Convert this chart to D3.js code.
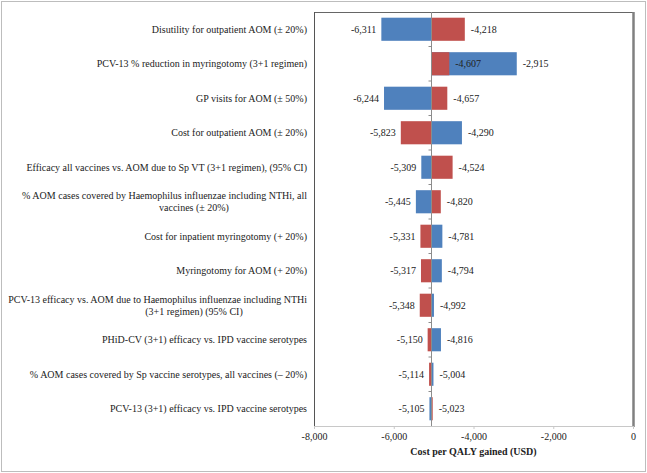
<!DOCTYPE html>
<html>
<head>
<meta charset="utf-8">
<script src="https://cdn.jsdelivr.net/npm/d3@7"></script>
<style>
  body { margin: 0; background: #fff; }
</style>
</head>
<body>
<svg id="chart"></svg>
<script>
// parameters (top to bottom), "\n" marks a line break in the label
const categories = [
    'Disutility for outpatient AOM (± 20%)',
    'PCV-13 % reduction in myringotomy (3+1 regimen)',
    'GP visits for AOM (± 50%)',
    'Cost for outpatient AOM (± 20%)',
    'Efficacy all vaccines vs. AOM due to Sp VT (3+1 regimen), (95% CI)',
    '% AOM cases covered by Haemophilus influenzae including NTHi, all\nvaccines (± 20%)',
    'Cost for inpatient myringotomy (+ 20%)',
    'Myringotomy for AOM (+ 20%)',
    'PCV-13 efficacy vs. AOM due to Haemophilus influenzae including NTHi\n(3+1 regimen) (95% CI)',
    'PHiD-CV (3+1) efficacy vs. IPD vaccine serotypes',
    '% AOM cases covered by Sp vaccine serotypes, all vaccines (– 20%)',
    'PCV-13 (3+1) efficacy vs. IPD vaccine serotypes'
]
const blueValues = [-6311, -2915, -6244, -4290, -5309, -5445, -4781, -4794, -4992, -4816, -5004, -5105]
const redValues  = [-4218, -4607, -4657, -5823, -4524, -4820, -5331, -5317, -5348, -5150, -5114, -5023]
const baseValue = -5064
const xTicks = [-8000, -6000, -4000, -2000, 0]
const xTitle = 'Cost per QALY gained (USD)'

const W = 647, H = 473
const plot = { left: 314, right: 633, top: 12, bottom: 426 }
const FONT = '"Liberation Serif", "Times New Roman", "DejaVu Serif", serif'
const FS = '10px'

const fmt = d3.formatLocale({ decimal: '.', thousands: ',', grouping: [3], currency: ['$', ''], minus: '-' }).format(',')

const svg = d3.select('#chart').attr('width', W).attr('height', H)

// outer frame
svg.append('rect')
    .attr('x', 1.5).attr('y', 1.5)
    .attr('width', W - 3).attr('height', H - 3)
    .attr('fill', 'none').attr('stroke', '#bdbdbd')

const xScale = d3.scaleLinear().domain([-8000, 0]).range([plot.left, plot.right])
const yScale = d3.scaleBand().domain(d3.range(categories.length))
    .range([plot.top, plot.bottom])
    .paddingInner(0.33).paddingOuter(0.165)

// plot frame
svg.append('line')
    .attr('x1', plot.left).attr('x2', plot.right)
    .attr('y1', plot.top + 0.5).attr('y2', plot.top + 0.5)
    .attr('stroke', '#666')
svg.append('line')
    .attr('x1', plot.left + 0.5).attr('x2', plot.left + 0.5)
    .attr('y1', plot.top).attr('y2', plot.bottom)
    .attr('stroke', '#555')
svg.append('line')
    .attr('x1', plot.right + 0.5).attr('x2', plot.right + 0.5)
    .attr('y1', plot.top).attr('y2', plot.bottom + 1)
    .attr('stroke', '#808080').attr('stroke-width', 2.5)

// x axis
const xAxisG = svg.append('g')
    .attr('transform', `translate(0,${plot.bottom})`)
    .call(d3.axisBottom(xScale).tickValues(xTicks).tickFormat(fmt).tickSize(3).tickPadding(4))
xAxisG.attr('font-family', null).attr('font-size', null)
xAxisG.select('.domain').attr('stroke', '#c8c8c8')
xAxisG.selectAll('.tick line').attr('stroke', '#c8c8c8')
xAxisG.selectAll('.tick text')
    .style('font-family', FONT)
    .style('font-size', FS)
    .attr('fill', '#222')

svg.append('text')
    .attr('x', (plot.left + plot.right) / 2)
    .attr('y', 455)
    .attr('text-anchor', 'middle')
    .style('font-family', FONT)
    .style('font-size', FS)
    .style('font-weight', 'bold')
    .attr('fill', '#222')
    .text(xTitle)

// bars: blue under red
const rows = categories.map((c, i) => ({ i, blue: blueValues[i], red: redValues[i] }))
const barX = v => Math.min(xScale(v), xScale(baseValue))
const barW = v => Math.abs(xScale(v) - xScale(baseValue))

svg.append('g').selectAll('rect')
    .data(rows).join('rect')
    .attr('x', d => barX(d.blue))
    .attr('y', d => yScale(d.i))
    .attr('width', d => barW(d.blue))
    .attr('height', yScale.bandwidth())
    .attr('fill', '#4f81bd')

svg.append('g').selectAll('rect')
    .data(rows).join('rect')
    .attr('x', d => barX(d.red))
    .attr('y', d => yScale(d.i))
    .attr('width', d => barW(d.red))
    .attr('height', yScale.bandwidth())
    .attr('fill', '#c0504d')

// base line with category ticks
const bx = Math.round(xScale(baseValue)) + 0.5
svg.append('line')
    .attr('x1', bx).attr('x2', bx)
    .attr('y1', plot.top).attr('y2', plot.bottom)
    .attr('stroke', '#8c8c8c')
svg.append('g').selectAll('line')
    .data(d3.range(1, categories.length))
    .join('line')
    .attr('x1', bx - 3).attr('x2', bx)
    .attr('y1', d => yScale(d) - yScale.step() * yScale.paddingInner() / 2)
    .attr('y2', d => yScale(d) - yScale.step() * yScale.paddingInner() / 2)
    .attr('stroke', '#8c8c8c')

// value labels at the outer end of each bar
const labels = []
rows.forEach(d => {
    labels.push({ i: d.i, v: d.blue })
    labels.push({ i: d.i, v: d.red })
})
svg.append('g').selectAll('text')
    .data(labels).join('text')
    .attr('x', d => d.v < baseValue ? xScale(d.v) - 5 : xScale(d.v) + 6)
    .attr('y', d => yScale(d.i) + yScale.bandwidth() / 2)
    .attr('dy', '0.35em')
    .attr('text-anchor', d => d.v < baseValue ? 'end' : 'start')
    .style('font-family', FONT)
    .style('font-size', FS)
    .attr('fill', '#222')
    .text(d => fmt(d.v))

// category labels, wrapped second lines are centred in the label area
const labelRight = 307
const wrapCentre = 194
svg.append('g').selectAll('text')
    .data(categories).join('text')
    .style('font-family', FONT)
    .style('font-size', FS)
    .attr('fill', '#222')
    .each(function(d, i) {
        const lines = d.split('\n')
        const cy = yScale(i) + yScale.bandwidth() / 2
        lines.forEach((ln, k) => {
            d3.select(this).append('tspan')
                .attr('x', k === 0 ? labelRight : wrapCentre)
                .attr('text-anchor', k === 0 ? 'end' : 'middle')
                .attr('y', cy + (k - (lines.length - 1) / 2) * 12)
                .attr('dy', '0.35em')
                .text(ln)
        })
    })
</script>
</body>
</html>
